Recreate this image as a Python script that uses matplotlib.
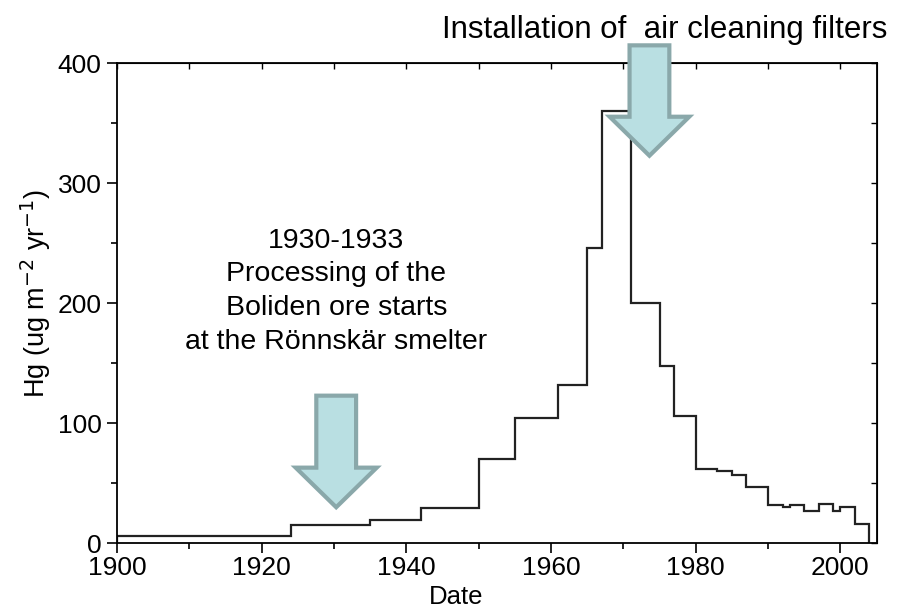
import matplotlib
matplotlib.use("Agg")
import matplotlib.pyplot as plt
from matplotlib.patches import FancyArrow
from matplotlib.ticker import MultipleLocator

plt.rcParams['font.family'] = ['Liberation Sans', 'DejaVu Sans']

# Step boundaries (years) and Hg deposition for each interval
edges = [1900, 1924, 1935, 1942, 1950, 1955, 1961, 1965, 1967, 1971, 1975, 1977,
         1980, 1983, 1985, 1987, 1990, 1992, 1993, 1995, 1997, 1999, 2000, 2002, 2004]
hg = [6, 15, 19.5, 29.5, 70, 104, 132, 246, 360, 200, 148, 106,
      62, 60.5, 57, 47, 32, 30, 32, 27, 33, 27, 30.5, 16]

x_ticks = [1900, 1920, 1940, 1960, 1980, 2000]
y_ticks = [0, 100, 200, 300, 400]

# arrow anchors (tip x, tip y, top y)
arrow1 = (1930.3, 30, 123)
arrow2 = (1973.6, 323, 415)

fig = plt.figure(figsize=(9, 6.09), dpi=100)
ax = fig.add_axes([0.130, 0.108, 0.844, 0.788])

ax.stairs(hg, edges, color='#222222', linewidth=1.6)

ax.set_xlim(1900, 2005)
ax.set_ylim(0, 400)
ax.set_xticks(x_ticks)
ax.set_yticks(y_ticks)
ax.xaxis.set_minor_locator(MultipleLocator(10))
ax.yaxis.set_minor_locator(MultipleLocator(50))
ax.tick_params(which='major', direction='out', length=7, width=1.2, labelsize=19, pad=2)
ax.tick_params(axis='y', which='major', pad=4)
ax.tick_params(which='minor', direction='out', length=4, width=1.2)
for s in ax.spines.values():
    s.set_linewidth(1.3)

secx = ax.secondary_xaxis('top')
secx.set_xticks(x_ticks)
secx.xaxis.set_minor_locator(MultipleLocator(10))
secx.tick_params(which='both', direction='in', length=4, width=1.0, labeltop=False)
secy = ax.secondary_yaxis('right')
secy.set_yticks(y_ticks)
secy.yaxis.set_minor_locator(MultipleLocator(50))
secy.tick_params(which='both', direction='in', length=4, width=1.0, labelright=False)

ax.set_xlabel('Date', fontsize=18.5)
ax.xaxis.set_label_coords(0.447, -0.087)
ax.set_ylabel('Hg (ug m$^{-2}$ yr$^{-1}$)', fontsize=19.5)
ax.yaxis.set_label_coords(-0.084, 0.52)

fill = '#b9dfe2'
edge = '#8aa8aa'
for (tx, ty, top), hw, hl in [(arrow1, 5.6, 33), (arrow2, 5.5, 32.5)]:
    a = FancyArrow(tx, top, 0, ty - top, width=5.5, head_width=2 * hw, head_length=hl,
                   length_includes_head=True, facecolor=fill, edgecolor=edge,
                   linewidth=3, clip_on=False, zorder=5)
    ax.add_patch(a)

ax.text(1930.3, 210, '1930-1933\nProcessing of the\nBoliden ore starts\nat the Rönnskär smelter',
        ha='center', va='center', fontsize=20.5, linespacing=1.38)

fig.text(665 / 900, 1 - 30 / 609, 'Installation of  air cleaning filters',
         ha='center', va='center', fontsize=22.5)

fig.savefig('out.png', dpi=100)
